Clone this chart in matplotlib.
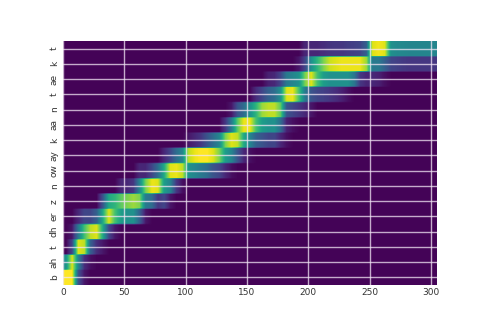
import numpy as np
import matplotlib
matplotlib.use("Agg")
import matplotlib.pyplot as plt

phones = ["b","ah","t","dh","er","z","n","ow","ay","k","aa","n","t","ae","k","t"]
x_ticks = [0, 50, 100, 150, 200, 250, 300]
frame_step = 5
n_frames = 61

starts = [0,0,5,5,10,30,45,60,80,100,130,135,155,165,190,195]
row_b = [1,1,.25,.05]
row_ah = [.5,.95,.45,.12,.03]
row_t1 = [.2,.95,.9,.3,.12,.05]
row_dh = [.05,.4,.7,.9,.95,.6,.2,.05]
row_er = [.1,.2,.2,.3,.6,.95,.7,.55,.5,.5,.3,.05]
row_z = [.25,.6,.65,.75,.8,.85,.8,.4,.35,.15,.2,.05]
row_n1 = [.1,.1,.15,.45,.8,.97,.95,.55,.45,.15,.03]
row_ow = [.1,.1,.2,.35,.6,.95,.97,.9,.5,.45,.4,.35,.25,.2,.1,.03]
row_ay = [.1,.2,.35,.45,.9,.97,1,1,.95,.8,.55,.45,.25,.1,.03]
row_k1 = [.05,.1,.15,.25,.35,.45,.8,.95,.9,.6,.45,.3,.25,.2,.2,.1,.03]
row_aa = [.15,.4,.75,.97,.97,.7,.55,.5,.5,.35,.08,.03]
row_n2 = [.05,.25,.35,.5,.65,.85,.9,.9,.75,.25,.2,.15,.1,.05]
row_t2 = [.12,.2,.3,.35,.5,.95,.97,.7,.4,.25,.2,.18,.15,.12,.08,.03]
row_ae = [.08,.1,.2,.4,.45,.5,.8,.95,.7,.55,.5,.5,.5,.5,.4,.15,.1,.1,.08,.03]
row_k2 = [.05,.2,.5,.65,.8,.92,.95,.97,.97,.97,.97,.85,.4,.4,.3,.2,.18,.16,.15,.15,.15,.15,.15]
row_t3 = [.1,.1,.1,.12,.14,.15,.15,.17,.18,.2,.3,.95,.98,.95,.5,.47,.46,.45,.45,.45,.45,.45]
rows = [row_b,row_ah,row_t1,row_dh,row_er,row_z,row_n1,row_ow,row_ay,row_k1,row_aa,row_n2,row_t2,row_ae,row_k2,row_t3]

grid = np.zeros((len(rows), n_frames))
for i, (s, r) in enumerate(zip(starts, rows)):
    j = s // frame_step
    grid[i, j:j+len(r)] = r

fig = plt.figure(figsize=(4.88, 3.27), dpi=100)
ax = fig.add_axes([63/488, 1-285/327, (437-63)/488, (285-41)/327])
ax.imshow(np.repeat(grid, 10, axis=0), origin="lower", aspect="auto", cmap="viridis",
          vmin=-0.01, vmax=1, extent=[0, 305, -0.5, len(rows)-0.5],
          interpolation="bilinear", interpolation_stage="data")
ax.set_xticks(x_ticks)
ax.set_yticks(range(len(phones)))
ax.set_yticklabels(phones, rotation=90, va="center")
ax.tick_params(axis="x", length=0, labelsize=6.5, labelcolor="#333333", pad=2)
ax.tick_params(axis="y", length=0, labelsize=6.5, labelcolor="#333333", pad=3)
ax.grid(True, color="#f2e6f5", lw=1.0, alpha=0.75)
for s in ax.spines.values():
    s.set_visible(False)
fig.savefig("out.png", dpi=100)
